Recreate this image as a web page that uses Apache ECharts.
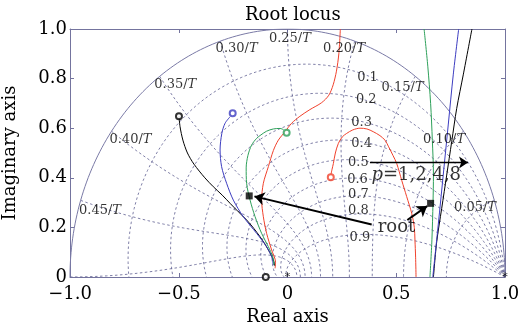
<!DOCTYPE html>
<html>
<head>
<meta charset="utf-8">
<script src="https://cdn.jsdelivr.net/npm/echarts@6/dist/echarts.min.js"></script>
<style>html,body{margin:0;padding:0;background:#fff}#chart{width:518px;height:332px}</style>
</head>
<body>
<div id="chart"></div>
<script>
// axis ticks
var xTicks = [-1, -0.5, 0, 0.5, 1];
var yTicks = [0, 0.2, 0.4, 0.6, 0.8, 1];
// damping ratio labels and where they sit
var dampingLabels = ['0.1', '0.2', '0.3', '0.4', '0.5', '0.6', '0.7', '0.8', '0.9'];
var dampingPos = [[0.368, 0.805], [0.362, 0.714], [0.341, 0.622], [0.341, 0.536], [0.326, 0.462],
                  [0.322, 0.391], [0.326, 0.331], [0.326, 0.266], [0.333, 0.16]];
// natural frequency labels (x/T)
var freqLabels = ['0.05', '0.10', '0.15', '0.20', '0.25', '0.30', '0.35', '0.40', '0.45'];
var freqPos = [[0.862, 0.278], [0.72, 0.552], [0.529, 0.762], [0.26, 0.922], [0.011, 0.962],
               [-0.234, 0.922], [-0.516, 0.774], [-0.722, 0.555], [-0.862, 0.266]];

// root locus branches
var blackLeft = [[-0.499, 0.648], [-0.494, 0.606], [-0.481, 0.552], [-0.46, 0.5], [-0.43, 0.455],
                 [-0.38, 0.4], [-0.341, 0.364], [-0.30, 0.33], [-0.264, 0.297], [-0.226, 0.263], [-0.188, 0.23],
                 [-0.155, 0.196], [-0.126, 0.162], [-0.104, 0.133], [-0.088, 0.109], [-0.075, 0.088], [-0.065, 0.069], [-0.058, 0.045]];
var blackRight = [[0.671, 0.0], [0.686, 0.142], [0.709, 0.277], [0.732, 0.411], [0.755, 0.546], [0.778, 0.68], [0.808, 0.815], [0.848, 1.0]];
var blueLeft = [[-0.264, 0.646], [-0.287, 0.62], [-0.302, 0.579], [-0.31, 0.512], [-0.303, 0.445], [-0.28, 0.378],
                [-0.249, 0.31], [-0.203, 0.243], [-0.142, 0.176], [-0.096, 0.122], [-0.073, 0.082], [-0.065, 0.048]];
var blueRight = [[0.668, 0.0], [0.693, 0.21], [0.716, 0.411], [0.739, 0.613], [0.762, 0.815], [0.787, 1.0]];
var greenLeft = [[-0.018, 0.594], [-0.034, 0.599], [-0.065, 0.597], [-0.096, 0.588], [-0.122, 0.573], [-0.142, 0.559],
                 [-0.165, 0.532], [-0.182, 0.49], [-0.19, 0.44], [-0.188, 0.378], [-0.172, 0.31], [-0.149, 0.243],
                 [-0.119, 0.176], [-0.088, 0.122], [-0.068, 0.082], [-0.062, 0.048]];
var greenRight = [[0.655, 0.0], [0.664, 0.15], [0.669, 0.3], [0.671, 0.411], [0.666, 0.55], [0.658, 0.7], [0.645, 0.85], [0.628, 1.0]];
var redLeft = [[0.243, 1.0], [0.236, 0.9], [0.225, 0.83], [0.21, 0.775], [0.19, 0.733], [0.157, 0.703], [0.103, 0.675],
               [0.057, 0.648], [0.019, 0.62], [-0.011, 0.586], [-0.042, 0.552], [-0.065, 0.51], [-0.088, 0.445],
               [-0.111, 0.378], [-0.119, 0.31], [-0.111, 0.243], [-0.096, 0.176], [-0.073, 0.109], [-0.055, 0.06], [-0.057, 0.035]];
var redRight = [[0.199, 0.41], [0.205, 0.435], [0.211, 0.458], [0.22, 0.5], [0.234, 0.539], [0.252, 0.565], [0.272, 0.579],
                [0.3, 0.593], [0.333, 0.6], [0.365, 0.597], [0.394, 0.586], [0.425, 0.57], [0.448, 0.552], [0.465, 0.525],
                [0.485, 0.49], [0.502, 0.458], [0.525, 0.39], [0.548, 0.324], [0.571, 0.257], [0.583, 0.2], [0.586, 0.149],
                [0.589, 0.08], [0.591, 0.0]];
// open circles at the start of each branch
var poles = [[-0.499, 0.648], [-0.252, 0.66], [-0.004, 0.582], [0.199, 0.402]];
var poleColors = ['#000000', '#3c3cc0', '#2ea05a', '#f0412c'];
var axisZeros = [[-0.1, 0.0]];
var stars = [[0.0, 0.0], [1.0, 0.0]];
// picked roots (black squares) and arrows to them
var roots = [[-0.176, 0.327], [0.658, 0.297]];
var rootArrows = [[[0.387, 0.212], [-0.152, 0.325]], [[0.551, 0.23], [0.642, 0.286]]];
var pArrow = [[0.379, 0.462], [0.83, 0.462]];
var rootText = [[0.501, 0.202]];
var pText = [[0.592, 0.411]];

var FONT = 'DejaVu Serif';
var GRID_C = '#5e5e90';
var AXIS_C = '#74749e';

// z-plane grid: constant damping and constant natural frequency curves
function zetaCurve(z) {
    var pts = [], s = Math.sqrt(1 - z * z), wmax = Math.PI / s;
    for (var i = 0; i <= 160; i++) {
        var w = wmax * i / 160, r = Math.exp(-z * w);
        pts.push([r * Math.cos(s * w), r * Math.sin(s * w)]);
    }
    return pts;
}
function wnCurve(k) {
    var pts = [], w = k * Math.PI / 10;
    for (var i = 0; i <= 80; i++) {
        var t = (Math.PI / 2) * i / 80, r = Math.exp(-Math.sin(t) * w);
        pts.push([r * Math.cos(w * Math.cos(t)), r * Math.sin(w * Math.cos(t))]);
    }
    return pts;
}
function gridLine(data, solid) {
    return {
        type: 'line', data: data, showSymbol: false, silent: true, z: 1,
        lineStyle: {color: solid ? '#7a7aa6' : GRID_C, width: solid ? 1 : 0.8, type: solid ? 'solid' : [2.5, 2.5]}
    };
}
function branch(data, color) {
    return {type: 'line', data: data, showSymbol: false, silent: true, z: 3, smooth: 0.3,
            lineStyle: {color: color, width: 1}};
}
function textSeries(pos, names, size) {
    return {
        type: 'scatter', symbolSize: 0, silent: true, z: 6,
        data: pos.map(function (p, i) { return {value: p, name: names[i]}; }),
        label: {show: true, position: 'inside', formatter: '{b}', color: '#000', fontFamily: FONT, fontSize: size,
                rich: {i: {fontStyle: 'italic', fontFamily: FONT, fontSize: size, color: '#000'}}}
    };
}

var series = [];
for (var d = 1; d <= 9; d++) series.push(gridLine(zetaCurve(d / 10), false));
for (var k = 1; k <= 10; k++) series.push(gridLine(wnCurve(k), false));
series.push(gridLine(zetaCurve(0), true));

series.push(branch(blackLeft, poleColors[0]), branch(blackRight, poleColors[0]));
series.push(branch(blueLeft, poleColors[1]), branch(blueRight, poleColors[1]));
series.push(branch(greenLeft, poleColors[2]), branch(greenRight, poleColors[2]));
series.push(branch(redLeft, poleColors[3]), branch(redRight, poleColors[3]));

series.push({
    type: 'scatter', symbol: 'emptyCircle', symbolSize: 6, silent: true, z: 4,
    data: poles.map(function (p, i) { return {value: p, itemStyle: {color: poleColors[i], borderColor: poleColors[i], borderWidth: 1}}; })
});
series.push({
    type: 'scatter', symbol: 'emptyCircle', symbolSize: 6, silent: true, z: 4, data: axisZeros,
    itemStyle: {color: '#000', borderColor: '#000', borderWidth: 1}
});
series.push(textSeries(stars, ['*', '*'], 11));

series.push(textSeries(dampingPos, dampingLabels, 13));
series.push(textSeries(freqPos, freqLabels.map(function (s) { return s + '/{i|T}'; }), 13));
series.push(textSeries(rootText, ['root'], 18));
series.push(textSeries(pText, ['{i|p}=1,2,4,8'], 18));

series.push({
    type: 'scatter', symbol: 'rect', symbolSize: 7, silent: true, z: 7, data: roots,
    itemStyle: {color: '#000'},
    markLine: {
        silent: true, symbol: ['none', 'arrow'], symbolSize: 10, animation: false,
        lineStyle: {color: '#000', width: 2, type: 'solid'}, label: {show: false},
        data: rootArrows.map(function (a) { return [{coord: a[0]}, {coord: a[1]}]; })
    }
});
series.push({
    type: 'scatter', symbolSize: 0, silent: true, z: 7, data: [pArrow[0]],
    markLine: {
        silent: true, symbol: ['none', 'arrow'], symbolSize: 9, animation: false,
        lineStyle: {color: '#000', width: 1.3, type: 'solid'}, label: {show: false},
        data: [[{coord: pArrow[0]}, {coord: pArrow[1]}]]
    }
});

function tickFmt(v) {
    if (v === 0) return '0';
    return (v < 0 ? '\u2212' : '') + Math.abs(v).toFixed(1);
}
var labelStyle = {color: '#000', fontFamily: FONT, fontSize: 18};

var option = {
    animation: false,
    backgroundColor: '#fff',
    title: {text: 'Root locus', left: 240, top: 1,
            textStyle: {fontFamily: FONT, fontSize: 18, fontWeight: 'normal', color: '#000'}},
    grid: {left: 70, right: 13, top: 29, bottom: 55, containLabel: false, outerBoundsMode: 'none'},
    xAxis: [{
        type: 'value', min: xTicks[0], max: xTicks[xTicks.length - 1], interval: 0.5,
        name: 'Real axis', nameLocation: 'middle', nameGap: 28,
        nameTextStyle: labelStyle,
        axisLine: {show: true, onZero: false, lineStyle: {color: AXIS_C}},
        axisTick: {show: true, inside: true, length: 4, lineStyle: {color: AXIS_C}},
        axisLabel: Object.assign({formatter: tickFmt, margin: 8}, labelStyle),
        splitLine: {show: false}
    }, {
        type: 'value', position: 'top', min: -1, max: 1, interval: 0.5,
        axisLine: {show: true, onZero: false, lineStyle: {color: AXIS_C}},
        axisTick: {show: true, inside: true, length: 4, lineStyle: {color: AXIS_C}},
        axisLabel: {show: false}, splitLine: {show: false}
    }],
    yAxis: [{
        type: 'value', min: yTicks[0], max: yTicks[yTicks.length - 1], interval: 0.2,
        name: 'Imaginary axis', nameLocation: 'middle', nameGap: 51,
        nameTextStyle: labelStyle,
        axisLine: {show: true, onZero: false, lineStyle: {color: AXIS_C}},
        axisTick: {show: true, inside: true, length: 4, lineStyle: {color: AXIS_C}},
        axisLabel: Object.assign({formatter: tickFmt, margin: 3}, labelStyle),
        splitLine: {show: false}
    }, {
        type: 'value', position: 'right', min: 0, max: 1, interval: 0.2,
        axisLine: {show: true, onZero: false, lineStyle: {color: AXIS_C}},
        axisTick: {show: true, inside: true, length: 4, lineStyle: {color: AXIS_C}},
        axisLabel: {show: false}, splitLine: {show: false}
    }],
    series: series
};

var chart = echarts.init(document.getElementById('chart'));
chart.setOption(option);
</script>
</body>
</html>
